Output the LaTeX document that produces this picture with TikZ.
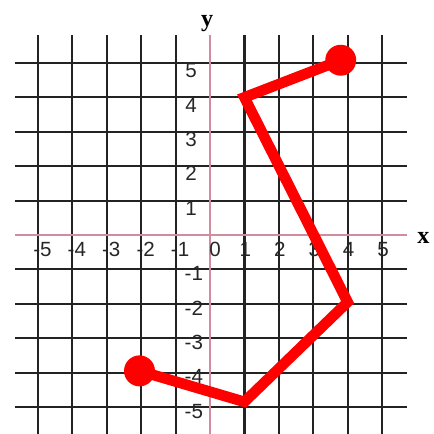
\documentclass[tikz,border=0pt]{standalone}
\usepackage{fontspec}
\setmainfont{Liberation Sans}
\newfontfamily\axisfont{Liberation Serif}
\definecolor{axispink}{RGB}{210,140,160}
\definecolor{gridgray}{RGB}{35,35,35}
\begin{document}
\begin{tikzpicture}[x=1cm,y=1cm,
  gridline/.style={draw=gridgray,line width=1.8pt},
  axisline/.style={draw=axispink,line width=1pt},
  ticklab/.style={inner sep=0pt,font=\fontsize{17}{17}\selectfont,text=black!85},
  axislab/.style={inner sep=0pt,font=\axisfont\bfseries\fontsize{20}{20}\selectfont},
  redpath/.style={draw=red,line width=8.8pt,line join=miter},
  dot/.style={circle,fill=red,minimum size=0.9cm,inner sep=0pt}]
\useasboundingbox (-6.105,-5.785) rectangle (6.483,6.831);
% grid
\foreach \i in {-5,...,-1,1,2,3,4,5} {
  \draw[gridline] (\i,5.81) -- (\i,-5.9);
  \draw[gridline] (-5.67,\i) -- (5.73,\i);
}
% axes
\draw[axisline] (-5.67,0) -- (5.73,0);
\draw[axisline] (0,5.81) -- (0,-5.9);
\node[axislab] (xl) at (6.2,-0.08) {x};
\node[axislab] (yl) at (-0.08,6.15) {y};
% x tick labels
\foreach \i in {-5,...,-1} \node[ticklab] at (\i+0.13,-0.42) {\i};
\node[ticklab] at (0.15,-0.42) {0};
\foreach \i in {1,...,5} \node[ticklab] at (\i+0.03,-0.42) {\i};
% y tick labels
\foreach \i in {1,...,5} \node[ticklab] at (-0.55,\i-0.22) {\i};
\foreach \i in {1,...,5} \node[ticklab] at (-0.47,-\i-0.12) {-\i};
% red path
\coordinate (p1) at (3.8,5.08);
\coordinate (p2) at (1,4);
\coordinate (p3) at (4,-1.95);
\coordinate (p4) at (1,-4.85);
\coordinate (p5) at (-2.05,-3.95);
\draw[redpath] (p1) -- (p2) -- (p3) -- (p4) -- (p5);
\node[dot] (d1) at (p1) {};
\node[dot] (d2) at (p5) {};
\end{tikzpicture}
\end{document}
